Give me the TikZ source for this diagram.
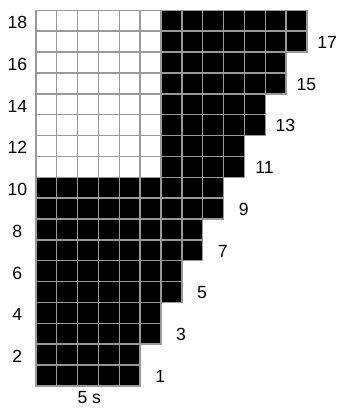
\documentclass[tikz,border=0pt]{standalone}
\usepackage{fontspec}
\setmainfont{Liberation Sans}
\begin{document}
\begin{tikzpicture}[
x=0.5cm, y=0.5cm,
cell/.style={
draw=gray!80,
line width=1pt,
minimum size=0.5cm,
inner sep=0pt,
anchor=south west
},
blackcell/.style={cell, fill=black},
whitecell/.style={cell, fill=white},
lbl/.style={font=\fontsize{12}{14}\selectfont, inner sep=0pt}
]
\useasboundingbox (-1.68,-1.165) rectangle (14.53,18.53);
% cells, row by row
\foreach \r in {1,...,18}{
\pgfmathtruncatemacro\w{5+int((\r-1)/2)}
\foreach \c in {1,...,\w}{
\def\kind{blackcell}
\ifnum\r>10 \ifnum\c<7 \def\kind{whitecell}\fi\fi
\node[\kind] (c-\r-\c) at (\c-1,\r-1) {};
}
}
% row numbers
\foreach \r in {2,4,...,18}
\node[lbl] (left-\r) at (-0.85,\r-0.55) {\r};
\foreach \r in {1,3,...,17}{
\pgfmathtruncatemacro\w{5+int((\r-1)/2)}
\node[lbl] (right-\r) at (\w+1,\r-0.5) {\r};
}
\node[lbl] (base) at (2.6,-0.5) {5 s};
\end{tikzpicture}
\end{document}
